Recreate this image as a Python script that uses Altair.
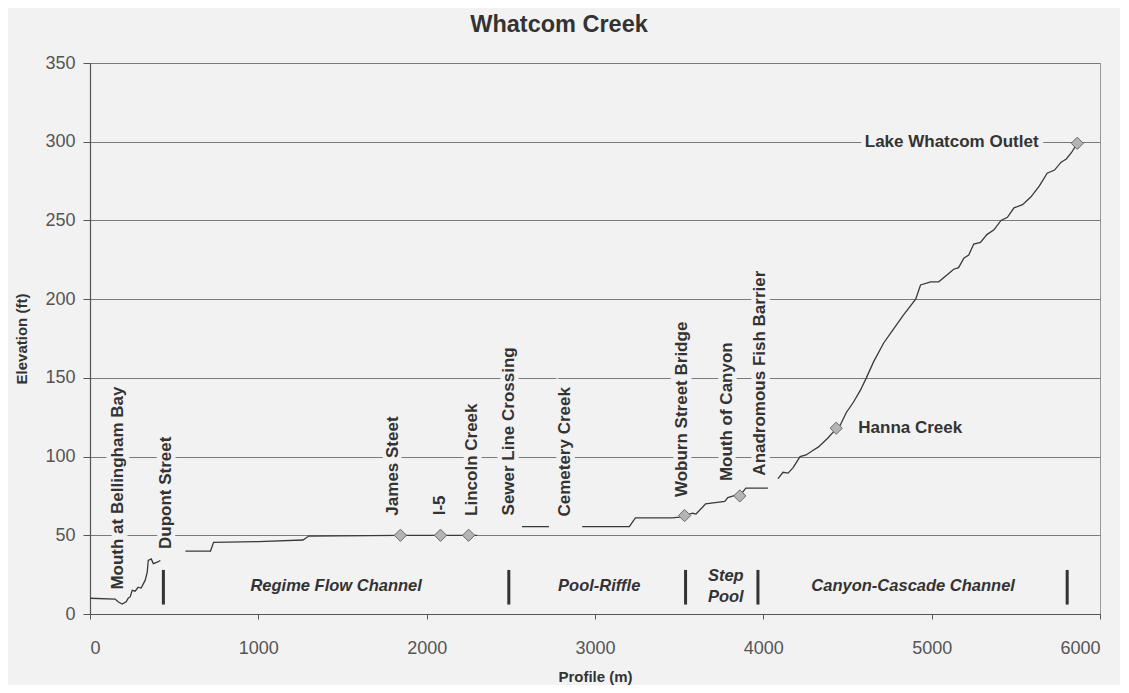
import altair as alt
import pandas as pd

# ---------------- data ----------------
profile_m = [0, 149, 167, 191, 215, 227, 239, 251, 268, 286, 304, 328, 340, 346, 364, 376, 400, 418,
             567, 716, 734, 1000, 1265, 1300, 1844, 2082, 2249, 2300,
             2566, 2727,
             2924, 3204, 3240, 3460, 3500, 3532, 3580, 3600, 3640, 3657, 3771, 3789, 3836, 3860, 3896, 4027,
             4087, 4117, 4147, 4177, 4218, 4254, 4296, 4326, 4356, 4385, 4415, 4433, 4457, 4493, 4535, 4576,
             4612, 4654, 4714, 4773, 4833, 4905, 4934, 4994, 5042, 5131, 5160, 5191, 5220, 5250, 5290, 5328,
             5370, 5412, 5450, 5489, 5540, 5590, 5640, 5686, 5730, 5769, 5800, 5830, 5865]
profile_ft = [10, 9.5, 7.8, 6.3, 7.8, 10, 11, 15, 14.5, 17, 16.5, 21.5, 26.6, 34, 35, 32, 33, 34,
              40, 40, 45.5, 46, 47, 49.5, 50, 50, 50, 50,
              55.5, 55.5,
              55.5, 55.5, 61, 61, 61.5, 62.5, 64, 63.5, 68, 70, 71.5, 74, 75.5, 75, 80, 80,
              86, 90, 89.5, 93, 100, 101, 104, 106, 109, 112, 115.5, 118, 120, 128, 134.5, 142,
              150, 160, 172, 181, 190, 200, 209, 211, 211, 219, 220, 226, 228, 235, 236, 241,
              244, 250, 252, 258, 260, 265, 272, 280, 282, 287, 289, 293, 299]
profile_seg = [0] * 18 + [1] * 10 + [2] * 2 + [3] * 16 + [4] * 45

marker_m = [1844, 2082, 2249, 3532, 3860, 4433, 5865]
marker_ft = [50, 50, 50, 62.5, 75, 118, 299]

vlabel_text = ["Mouth at Bellingham Bay", "Dupont Street", "James Steet", "I-5", "Lincoln Creek",
               "Sewer Line Crossing", "Cemetery Creek", "Woburn Street Bridge", "Mouth of Canyon",
               "Anadromous Fish Barrier"]
vlabel_m = [167, 453, 1800, 2082, 2267, 2488, 2822, 3514, 3783, 3980]
vlabel_ft = [80, 77, 94, 69, 98, 116, 103, 130, 128.5, 153]

hlabel_left_text = ["Hanna Creek"]
hlabel_left_m = [4564]
hlabel_left_ft = [118]
hlabel_right_text = ["Lake Whatcom Outlet"]
hlabel_right_m = [5635]
hlabel_right_ft = [300]

reach_text = ["Regime Flow Channel", "Pool-Riffle", "Step", "Pool", "Canyon-Cascade Channel"]
reach_m = [1462, 3025, 3777, 3777, 4890]
reach_ft = [18, 18, 24, 11, 18]

divider_m = [436, 2488, 3538, 3968, 5805]
divider_lo = [6, 6, 6, 6, 6]
divider_hi = [28, 28, 28, 28, 28]

BG = "#f2f2f2"
FONT = "Liberation Sans"

# ---------------- tables ----------------
df_profile = pd.DataFrame({"m": profile_m, "ft": profile_ft, "seg": profile_seg})
df_marker = pd.DataFrame({"m": marker_m, "ft": marker_ft})
df_vlabel = pd.DataFrame({"text": vlabel_text, "m": vlabel_m, "ft": vlabel_ft})
df_hl = pd.DataFrame({"text": hlabel_left_text, "m": hlabel_left_m, "ft": hlabel_left_ft})
df_hr = pd.DataFrame({"text": hlabel_right_text, "m": hlabel_right_m, "ft": hlabel_right_ft})
df_reach = pd.DataFrame({"text": reach_text, "m": reach_m, "ft": reach_ft})
df_div = pd.DataFrame({"m": divider_m, "lo": divider_lo, "hi": divider_hi})

xs = alt.Scale(domain=[0, 6000], nice=False, zero=False)
ys = alt.Scale(domain=[0, 350], nice=False)

x_axis = alt.Axis(values=[0, 1000, 2000, 3000, 4000, 5000, 6000], grid=False, tickSize=5,
                  labelPadding=20, titlePadding=12, format="d")
y_axis = alt.Axis(values=[0, 50, 100, 150, 200, 250, 300, 350], grid=True, tickSize=7,
                  labelPadding=8, titlePadding=15)

X = alt.X("m:Q", scale=xs, axis=x_axis, title="Profile (m)")
Y = alt.Y("ft:Q", scale=ys, axis=y_axis, title="Elevation (ft)")
Xn = alt.X("m:Q", scale=xs)
Yn = alt.Y("ft:Q", scale=ys)

line = alt.Chart(df_profile).mark_line(color="#3a3a3a", strokeWidth=1.3).encode(
    x=X, y=Y, detail="seg:N", order="m:Q")

markers = alt.Chart(df_marker).mark_point(shape="diamond", size=150, filled=True,
                                          fill="#b4b4b4", stroke="#6a6a6a", strokeWidth=1,
                                          opacity=1).encode(x=Xn, y=Yn)

TXT = dict(font=FONT, fontSize=17, fontWeight="bold", baseline="middle")
HALO = dict(fill=BG, stroke=BG, strokeWidth=9)

vhalo = alt.Chart(df_vlabel).mark_text(angle=270, align="center", **TXT, **HALO).encode(
    x=Xn, y=Yn, text="text:N")
vtext = alt.Chart(df_vlabel).mark_text(angle=270, align="center", color="#333333", **TXT).encode(
    x=Xn, y=Yn, text="text:N")

hl_halo = alt.Chart(df_hl).mark_text(align="left", **TXT, **HALO).encode(x=Xn, y=Yn, text="text:N")
hl_text = alt.Chart(df_hl).mark_text(align="left", color="#333333", **TXT).encode(x=Xn, y=Yn, text="text:N")
hr_halo = alt.Chart(df_hr).mark_text(align="right", **TXT, **HALO).encode(x=Xn, y=Yn, text="text:N")
hr_text = alt.Chart(df_hr).mark_text(align="right", color="#333333", **TXT).encode(x=Xn, y=Yn, text="text:N")

reach = alt.Chart(df_reach).mark_text(align="center", baseline="middle", font=FONT, fontSize=16.5,
                                      fontWeight="bold", fontStyle="italic", color="#333333").encode(
    x=Xn, y=Yn, text="text:N")

dividers = alt.Chart(df_div).mark_rule(color="#333333", strokeWidth=3).encode(
    x=Xn, y=alt.Y("lo:Q", scale=ys), y2="hi:Q")

chart = alt.layer(vhalo, hl_halo, hr_halo, line, markers, dividers, vtext, hl_text, hr_text, reach).properties(
    width=1010, height=551,
    autosize=alt.AutoSizeParams(type="none"),
    padding={"left": 82, "top": 55, "right": 20, "bottom": 71},
    background=BG,
    title=alt.TitleParams("Whatcom Creek", font=FONT, fontSize=23.5, fontWeight="bold",
                          color="#333333", anchor="middle", offset=18, dx=-36),
).configure_view(stroke="#999999", strokeWidth=1).configure_axis(
    labelFont=FONT, labelFontSize=18, labelColor="#555555", titleFont=FONT, titleFontSize=15,
    titleFontWeight="bold", titleColor="#333333", domainColor="#555555", tickColor="#555555",
    gridColor="#7a7a7a", gridWidth=1, domainWidth=1.2)

chart.save("out.html", embed_options={"renderer": "svg", "actions": False})
